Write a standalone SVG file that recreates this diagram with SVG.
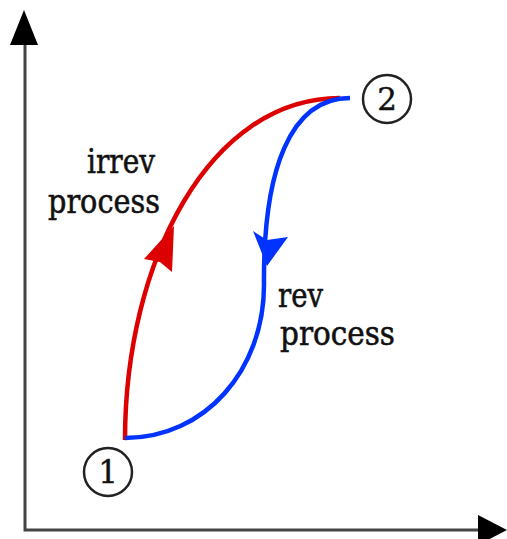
<svg xmlns="http://www.w3.org/2000/svg" width="507" height="539" viewBox="0 0 507 539">
<style>
.axis{stroke:#444;stroke-width:3;fill:none}
.head{fill:#000}
.state{fill:#fff;stroke:#222;stroke-width:2.5}
.num{font-family:"DejaVu Serif","Liberation Serif",serif;font-size:31px;fill:#111;text-anchor:middle;stroke:#111;stroke-width:0.4}
.lbl{font-family:"DejaVu Serif","Liberation Serif",serif;font-size:34px;fill:#111;stroke:#111;stroke-width:0.6}
.irr{stroke:#dd0000;stroke-width:4.5;fill:none}
.rev{stroke:#0033ff;stroke-width:4.5;fill:none}
</style>
<rect width="507" height="539" fill="#fff"/>
<g id="axes">
<path class="axis" d="M25,45 L25,530 L480,530"/>
<polygon class="head" points="24,10 10,45 38,45"/>
<polygon class="head" points="507,530 478,515 478,545"/>
</g>
<g id="connectors">
<g id="irrev-path">
<path class="irr" d="M125,440 C125,260 210,98 340,98"/>
<polygon fill="#dd0000" points="174,226 144,259 160,262 172,272"/>
</g>
<g id="rev-path">
<path class="rev" d="M350,98 C290,98 263,170 264,285 C264,370 205,438 125,438"/>
<polygon fill="#0033ff" points="267,266 253,231 267,240 288,237"/>
</g>
</g>
<g id="state1">
<circle class="state" cx="108" cy="472" r="24"/>
<text class="num" x="108" y="483">1</text>
</g>
<g id="state2">
<circle class="state" cx="387" cy="99" r="24"/>
<text class="num" x="387" y="110">2</text>
</g>
<g id="label-irrev">
<text class="lbl" x="87" y="173" textLength="68" lengthAdjust="spacingAndGlyphs">irrev</text>
<text class="lbl" x="48" y="213" textLength="112" lengthAdjust="spacingAndGlyphs">process</text>
</g>
<g id="label-rev">
<text class="lbl" x="278" y="307" textLength="45" lengthAdjust="spacingAndGlyphs">rev</text>
<text class="lbl" x="280" y="345" textLength="115" lengthAdjust="spacingAndGlyphs">process</text>
</g>
</svg>
